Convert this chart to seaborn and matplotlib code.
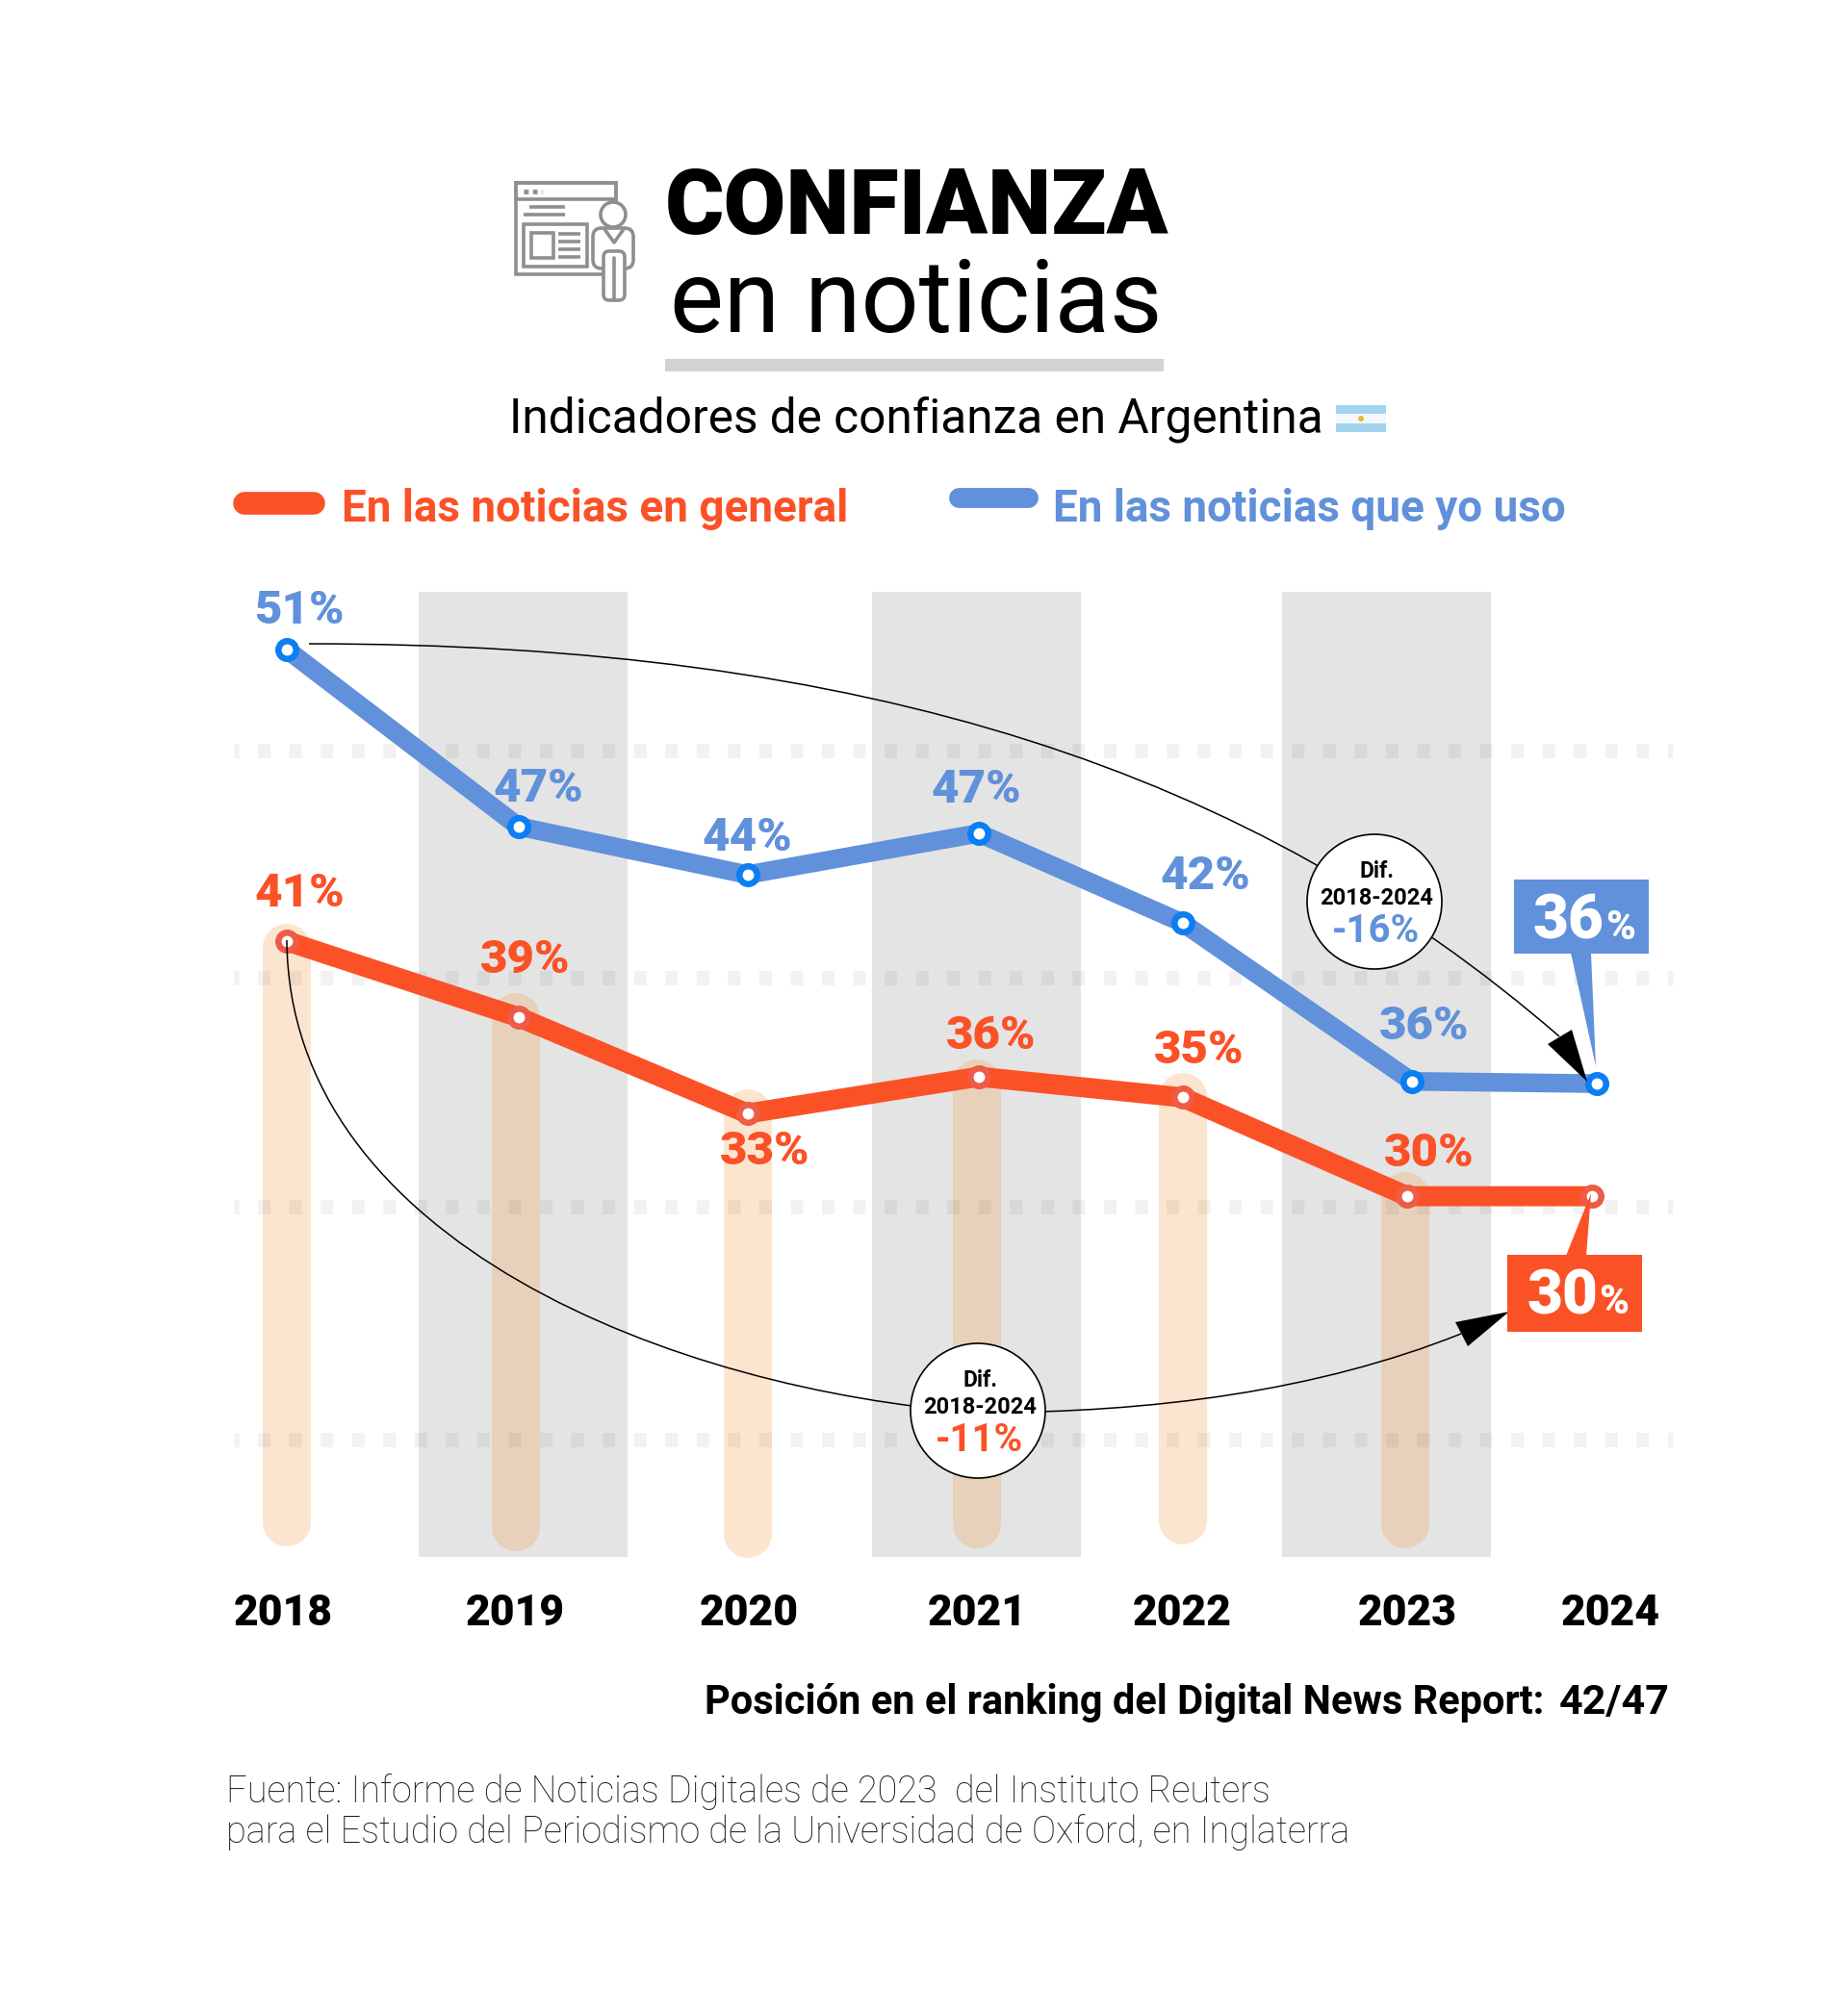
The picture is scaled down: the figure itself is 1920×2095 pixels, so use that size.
import matplotlib
matplotlib.use('Agg')
import matplotlib.pyplot as plt
import pandas as pd
import seaborn as sns
from matplotlib.patches import Circle, Ellipse, FancyBboxPatch, PathPatch, Polygon, Rectangle
from matplotlib.path import Path
from matplotlib.transforms import Affine2D

# values as drawn in the picture (the line heights do not quite follow the labels)
year_labels = ['2018', '2019', '2020', '2021', '2022', '2023', '2024']
blue_x = [2018, 2019, 2019.99, 2020.99, 2021.87, 2022.86, 2023.66]
red_x = [2018, 2019, 2019.99, 2020.99, 2021.87, 2022.84, 2023.64]
blue_y = [54.4, 46.7, 44.6, 46.4, 42.5, 35.6, 35.5]
red_y = [41.7, 38.4, 34.2, 35.8, 34.9, 30.6, 30.6]
blue_labels = ['51%', '47%', '44%', '47%', '42%', '36%']
red_labels = ['41%', '39%', '33%', '36%', '35%', '30%']
pale_x = [2018, 2018.99, 2019.99, 2020.98, 2021.87, 2022.83]
pale_top = [41.4, 38.4, 34.2, 35.5, 34.9, 30.6]
pale_bottom = [16.4, 16.2, 15.9, 16.3, 16.5, 16.3]
grid_values = [50, 40.1, 30.15, 20]
bands = [(2018.57, 2019.47), (2020.53, 2021.43), (2022.30, 2023.20)]

BLUE = '#6091DA'
RED = '#FB5127'
W, H = 1920, 2095
FONT = 'Roboto'

sns.set_theme(style='white')
plt.rcParams['font.family'] = [FONT, 'DejaVu Sans']

fig = plt.figure(figsize=(W / 100, H / 100), dpi=100, facecolor='white')
ax = fig.add_axes([0, 0, 1, 1])
ax.set_xlim(2018 - 298 / 240.5, 2018 + (W - 298) / 240.5)
ax.set_ylim(50 - (H - 780) / 23.87, 50 + 780 / 23.87)
ax.axis('off')

# pixel coords of the full picture, for all the decoration
px = Affine2D().scale(1 / W, -1 / H).translate(0, 1) + fig.transFigure


def text(x, y, s, size, color='black', weight='normal', ha='center', va='baseline', z=10):
    return ax.text(x, y, s, transform=px, fontsize=size, color=color, fontweight=weight,
                   ha=ha, va=va, zorder=z)


# gray bands, pale bars, dotted grid
for a, b in bands:
    ax.fill_between([a, b], 14.9, 56.9, color='#E4E4E4', lw=0, zorder=1)
ax.vlines(pale_x, pale_bottom, pale_top, colors=[(246 / 255, 159 / 255, 74 / 255)], alpha=0.27,
          linewidth=36, capstyle='round', zorder=2)
ax.hlines(grid_values, 2018 - 55 / 240.5, 2018 + 1440 / 240.5, colors='black', alpha=0.05,
          linewidth=10.8, linestyles=[(0.53, (0.87, 1.3))], zorder=3)

# the two series
blue_df = pd.DataFrame({'year': blue_x, 'value': blue_y})
red_df = pd.DataFrame({'year': red_x, 'value': red_y})
sns.lineplot(data=blue_df, x='year', y='value', color=BLUE, lw=14, sort=False, errorbar=None, ax=ax, zorder=4)
sns.lineplot(data=red_df, x='year', y='value', color=RED, lw=15, sort=False, errorbar=None, ax=ax, zorder=5)
sns.scatterplot(data=blue_df, x='year', y='value', s=177, color='white', edgecolor='#0A7EF2', linewidth=4.7, ax=ax, zorder=6)
sns.scatterplot(data=red_df, x='year', y='value', s=177, color='white', edgecolor='#EE5B46', linewidth=4.7, ax=ax, zorder=6)
ax.set_xlabel('')
ax.set_ylabel('')

# point labels
blue_offs = [(13, 40), (21, 39), (0, 38), (-3, 45), (24, 48), (13, 57)]
red_offs = [(13, 49), (7, 59), (18, -40), (13, 42), (17, 48), (23, 44)]
for x, y, s, o in zip(blue_x, blue_y, blue_labels, blue_offs):
    ax.annotate(s, (x, y), xytext=o, textcoords='offset pixels', ha='center', va='center',
                fontsize=35.5, fontweight='black', color=BLUE, zorder=8)
for x, y, s, o in zip(red_x, red_y, red_labels, red_offs):
    ax.annotate(s, (x, y), xytext=o, textcoords='offset pixels', ha='center', va='center',
                fontsize=35.5, fontweight='black', color=RED, zorder=8)

# curved arrows
blue_curve = Path([(321, 669), (900, 669), (1300, 800), (1620, 1077)],
                  [Path.MOVETO, Path.CURVE4, Path.CURVE4, Path.CURVE4])
red_curve = Path([(298, 977), (300, 1290), (700, 1445), (1017, 1468), (1200, 1468), (1370, 1445), (1518, 1386)],
                 [Path.MOVETO, Path.CURVE4, Path.CURVE4, Path.CURVE4, Path.CURVE4, Path.CURVE4, Path.CURVE4])
for c in (blue_curve, red_curve):
    ax.add_patch(PathPatch(c, fc='none', ec='black', lw=1.1, transform=px, zorder=7))
ax.add_patch(Polygon([(1649, 1124), (1608, 1085), (1633, 1070)], fc='black', ec='none', transform=px, zorder=7))
ax.add_patch(Polygon([(1568, 1363), (1512, 1374), (1525, 1399)], fc='black', ec='none', transform=px, zorder=7))

# circles with the difference
for cx, cy, val, col in [(1428, 937, '-16%', BLUE), (1016, 1466, '-11%', RED)]:
    ax.add_patch(Circle((cx, cy), 70, fc='white', ec='black', lw=1.2, transform=px, zorder=8))
    text(cx + 2, cy - 25, 'Dif.', 16.5, weight='bold', z=9)
    text(cx + 2, cy + 3, '2018-2024', 17, weight='bold', z=9)
    text(cx + 2, cy + 42, val, 29, color=col, weight='bold', z=9)

# callout boxes
ax.add_patch(Rectangle((1573, 914), 140, 77, fc=BLUE, ec='none', transform=px, zorder=8))
ax.add_patch(Polygon([(1632, 990), (1653, 990), (1658, 1108)], fc=BLUE, ec='none', transform=px, zorder=8))
text(1629, 976, '36', 46, color='white', weight='black', z=9)
text(1684, 976, '%', 30, color='white', weight='black', z=9)
ax.add_patch(Rectangle((1566, 1304), 140, 80, fc=RED, ec='none', transform=px, zorder=8))
ax.add_patch(Polygon([(1627, 1305), (1648, 1305), (1653, 1240)], fc=RED, ec='none', transform=px, zorder=8))
text(1623, 1365, '30', 46, color='white', weight='black', z=9)
text(1677, 1365, '%', 30, color='white', weight='black', z=9)

# year labels
for x, s in zip([294, 535, 778, 1015, 1228, 1462, 1673], year_labels):
    text(x, 1689, s, 32, weight='black')

# header
text(952, 243, 'CONFIANZA', 67.6, weight='black')
text(952, 345, 'en noticias', 76)
ax.add_patch(Rectangle((691, 373), 518, 13, fc='#D2D2D2', ec='none', transform=px))
text(529, 449, 'Indicadores de confianza en Argentina', 35.7, ha='left')
# flag
ax.add_patch(Rectangle((1388, 421), 52, 9, fc='#A4D3F0', ec='none', transform=px))
ax.add_patch(Rectangle((1388, 430), 52, 10, fc='#F4F8FB', ec='none', transform=px))
ax.add_patch(Rectangle((1388, 440), 52, 9, fc='#A4D3F0', ec='none', transform=px))
ax.add_patch(Circle((1414, 435), 3, fc='#E8B93C', ec='none', transform=px, zorder=3))

# legend
ax.plot([254, 326], [523, 523], color=RED, lw=17, solid_capstyle='round', transform=px)
ax.plot([996, 1068], [517, 517], color=BLUE, lw=15, solid_capstyle='round', transform=px)
text(355, 542, 'En las noticias en general', 33, color=RED, weight='bold', ha='left')
text(1094, 542, 'En las noticias que yo uso', 33, color=BLUE, weight='bold', ha='left')

# icon
G = '#8F8F8F'
for xy, w, h in [((536, 190), 104, 95), ((536, 190), 104, 17), ((544, 233), 66, 44), ((552, 242), 23, 26)]:
    ax.add_patch(Rectangle(xy, w, h, fc='none', ec=G, lw=2.6, transform=px))
for y0, x0, x1 in [(215, 550, 587), (223, 544, 587), (243, 580, 603), (251, 580, 603), (259, 580, 603), (267, 580, 603)]:
    ax.plot([x0, x1], [y0, y0], color=G, lw=2.6, transform=px, solid_capstyle='butt')
ax.plot([544, 563], [199, 199], color=G, lw=3.5, ls=(0, (1, 0.9)), transform=px)
ax.add_patch(Ellipse((637, 223), 26, 26, fc='white', ec=G, lw=2.6, transform=px, zorder=3))
ax.add_patch(FancyBboxPatch((619, 240), 36, 36, boxstyle='round,pad=3,rounding_size=9', fc='white', ec=G, lw=2.6,
                            transform=px, zorder=2))
ax.add_patch(FancyBboxPatch((628, 262), 20, 49, boxstyle='round,pad=1,rounding_size=6', fc='white', ec=G, lw=2.6,
                            transform=px, zorder=3))
ax.plot([638, 638], [268, 311], color=G, lw=2.6, transform=px, zorder=4)
ax.plot([628, 638, 648], [238, 252, 238], color=G, lw=2.6, transform=px, zorder=4)

# footer
text(732, 1781, 'Posición en el ranking del Digital News Report:', 29.9, weight='bold', ha='left')
text(1620, 1781, '42/47', 31, weight='bold', ha='left')
text(235, 1873, 'Fuente: Informe de Noticias Digitales de 2023  del Instituto Reuters', 27.25, color='#1E1E1E', weight='light', ha='left')
text(235, 1915, 'para el Estudio del Periodismo de la Universidad de Oxford, en Inglaterra', 27.25, color='#1E1E1E', weight='light', ha='left')

fig.savefig('out.png', dpi=100)
